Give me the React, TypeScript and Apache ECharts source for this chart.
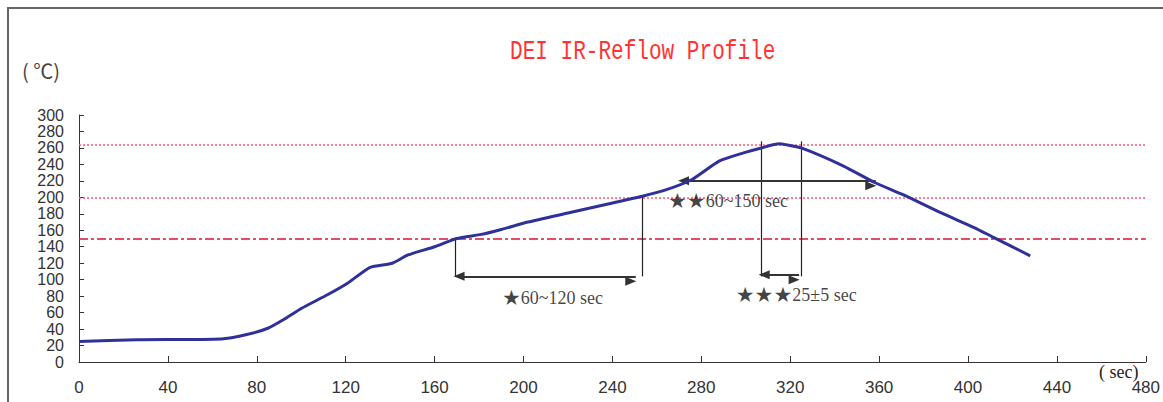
import React, { useEffect, useRef } from "react";
import * as echarts from "echarts";

// Profile curve (time in sec, temperature in °C)
const times = [0, 26, 64, 75, 85, 93, 100, 112, 121, 131, 141, 148, 160, 170, 181, 190, 202, 220, 238, 253, 264, 276, 288, 299, 307, 315, 318, 325, 344, 358, 371, 388, 403, 411, 428];
const temps = [25, 27, 28, 33, 41, 53, 65, 82, 96, 115, 120, 130, 140, 150, 155, 161, 170, 181, 192, 201, 209, 222, 244, 254, 260, 265, 264, 260, 238, 218, 203, 181, 163, 152, 129];

// Reference temperature levels
const dottedLevels = [264, 200];
const dashedLevels = [150];

// Vertical marker lines: [sec, topTemp, bottomTemp]
const verticals = [
  [169.5, 150, 104],
  [253.5, 201, 104],
  [307, 268, 104],
  [325, 268, 104],
];

// Double arrows: [fromSec, toSec, temp]
const arrows = [
  [171, 250.5, 104],
  [272, 358.5, 220],
  [308.3, 324, 106],
];

// Annotation texts: [sec, temp, text]
const notes: [number, number, string][] = [
  [213, 78, "★60~120 sec"],
  [292, 196, "★★60~150 sec"],
  [322.7, 81, "★★★25±5 sec"],
];

const xTicks = { min: 0, max: 480, interval: 40 };
const yTicks = { min: 0, max: 300, interval: 20 };

export default function App() {
  const ref = useRef<HTMLDivElement>(null);
  useEffect(() => {
    if (!ref.current) return;
    const chart = echarts.init(ref.current, null, { renderer: "svg" });
    const axisColor = "#333";
    chart.setOption({
      animation: false,
      backgroundColor: "#ffffff",
      grid: { left: 79, right: 12, top: 115, bottom: 40 },
      xAxis: {
        type: "value",
        ...xTicks,
        axisLine: { lineStyle: { color: axisColor, width: 1 } },
        axisTick: { inside: true, length: 6, lineStyle: { color: axisColor } },
        axisLabel: {
          margin: 17,
          fontSize: 17,
          color: "#333",
          fontFamily: "Liberation Sans",
          showMinLabel: true,
          showMaxLabel: true,
        },
        splitLine: { show: false },
      },
      yAxis: {
        type: "value",
        ...yTicks,
        axisLine: { show: true, lineStyle: { color: axisColor, width: 1 } },
        axisTick: { show: true, inside: true, length: 5, lineStyle: { color: axisColor } },
        axisLabel: {
          margin: 15,
          fontSize: 16,
          lineHeight: 14,
          color: "#333",
          fontFamily: "Liberation Sans",
          hideOverlap: false,
        },
        splitLine: { show: false },
      },
      series: [
        {
          type: "line",
          data: [],
          silent: true,
          markLine: {
            silent: true,
            symbol: "none",
            label: { show: false },
            data: [
              ...dottedLevels.map((v) => ({
                yAxis: v,
                lineStyle: { color: "#ff5577", width: 1.5, type: [2, 2] },
              })),
              ...dashedLevels.map((v) => ({
                yAxis: v,
                lineStyle: { color: "#e0103a", width: 1.5, type: [9, 3, 3, 3] },
              })),
            ],
          },
        },
        {
          type: "line",
          data: [],
          silent: true,
          markLine: {
            silent: true,
            symbol: "none",
            label: { show: false },
            lineStyle: { color: "#222", width: 1.2, type: "solid" },
            data: verticals.map(([x, t, b]) => [{ coord: [x, t] }, { coord: [x, b] }]),
          },
        },
        {
          type: "line",
          data: [],
          silent: true,
          markLine: {
            silent: true,
            symbol: ["triangle", "triangle"],
            symbolSize: [9, 11],
            symbolOffset: [0, 5],
            label: { show: false },
            lineStyle: { color: "#333", width: 2, type: "solid" },
            data: arrows.map(([a, b, y]) => [{ coord: [a, y] }, { coord: [b, y] }]),
          },
        },
        {
          type: "line",
          data: times.map((t, i) => [t, temps[i]]),
          showSymbol: false,
          smooth: 0.2,
          lineStyle: { color: "#30309a", width: 3 },
          z: 5,
        },
        {
          type: "scatter",
          data: notes.map((n) => [n[0], n[1], n[2]]),
          symbolSize: 0,
          silent: true,
          label: {
            show: true,
            position: "inside",
            formatter: (p: any) => {
              const s: string = p.value[2];
              const m = s.match(/^(★+)(.*)$/);
              return m ? `{s|${m[1]}}{t|${m[2]}}` : `{t|${s}}`;
            },
            rich: {
              s: { fontFamily: "DejaVu Sans", fontSize: 21, color: "#111" },
              t: { fontFamily: "Liberation Serif", fontSize: 18, color: "#111" },
            },
          },
          z: 6,
        },
      ],
      graphic: [
        {
          type: "rect",
          shape: { x: 8, y: 8, width: 1300, height: 600 },
          style: { fill: "none", stroke: "#666", lineWidth: 2 },
          silent: true,
        },
        {
          type: "text",
          x: 510,
          y: 52,
          scaleX: 0.78,
          style: {
            text: "DEI IR-Reflow Profile",
            fontFamily: "Liberation Mono",
            fontSize: 27,
            fill: "#ff3333",
            verticalAlign: "middle",
          },
        },
        {
          type: "text",
          x: 22,
          y: 70,
          style: {
            text: "( ℃)",
            fontFamily: "Noto Sans CJK SC",
            fontSize: 20,
            fill: "#444",
            verticalAlign: "middle",
          },
        },
        {
          type: "text",
          x: 1099,
          y: 372,
          style: {
            text: "( sec)",
            fontFamily: "Liberation Serif",
            fontSize: 18,
            fill: "#222",
            verticalAlign: "middle",
          },
        },
      ],
    });
    return () => chart.dispose();
  }, []);
  return (
    <div
      ref={ref}
      style={{ position: "absolute", left: 0, top: 0, width: 1163, height: 402 }}
    />
  );
}
